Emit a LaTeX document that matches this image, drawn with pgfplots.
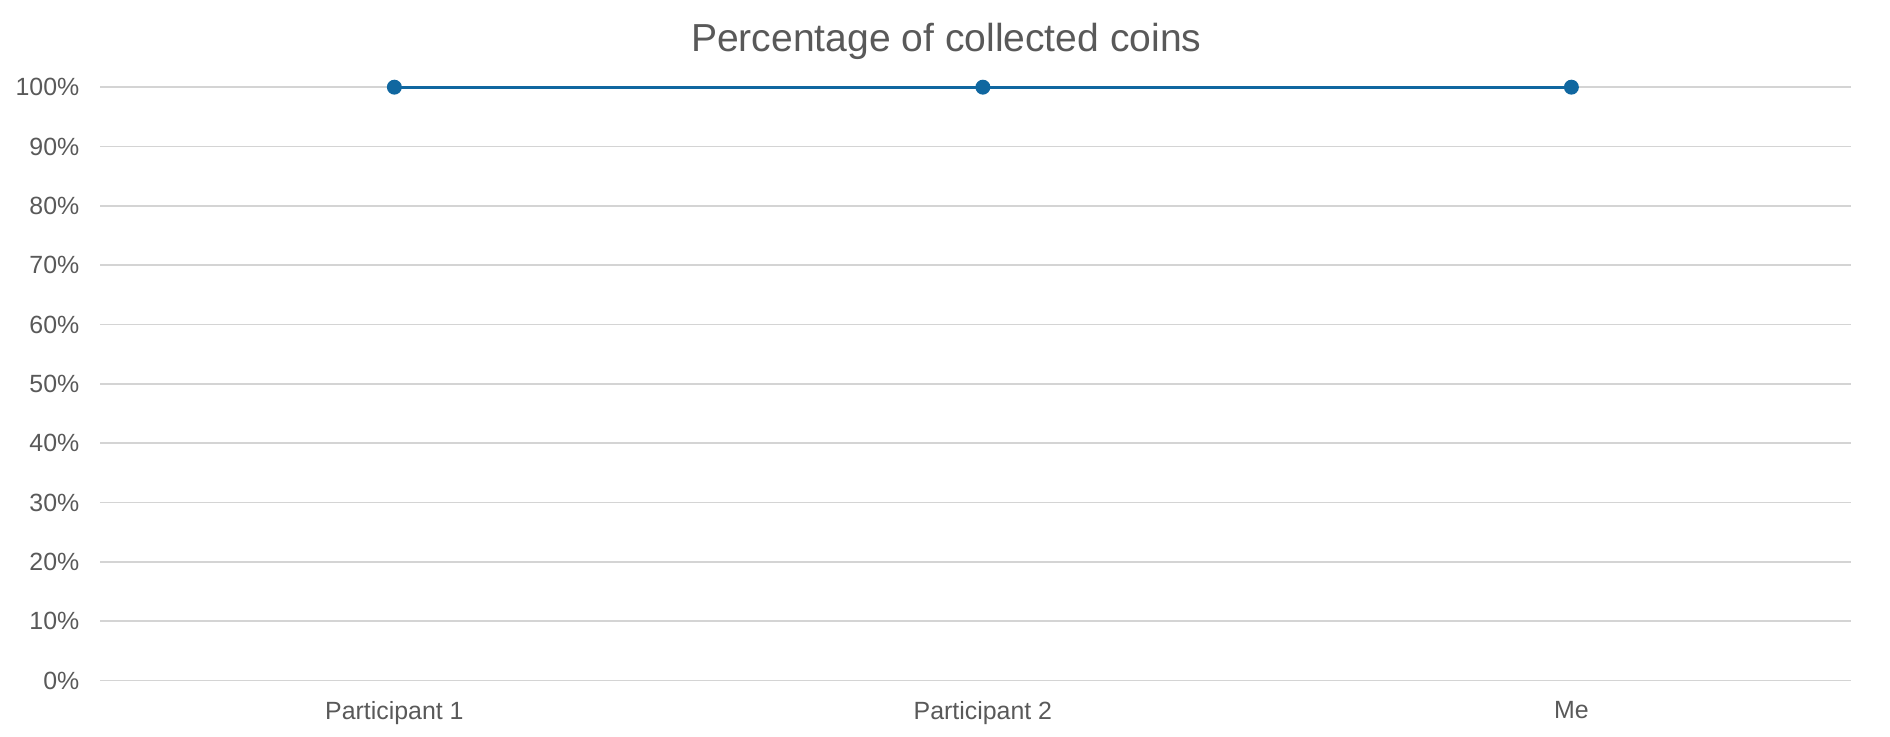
\documentclass[border=0pt]{standalone}
\usepackage{pgfplots}
\pgfplotsset{compat=1.18}
\usetikzlibrary{calc}
\usepackage{fontspec}
\setmainfont{Liberation Sans}
\definecolor{txtgray}{RGB}{89,89,89}
\definecolor{gridgray}{RGB}{212,212,212}
\definecolor{lineblue}{RGB}{16,103,160}
\begin{document}
\begin{tikzpicture}
\begin{axis}[
  scale only axis, width=717pt, height=243pt,
  xmin=-0.5, xmax=2.475, ymin=0, ymax=100,
  axis line style={draw=none},
  xtick={0,1,2}, xticklabels={Participant 1, Participant 2, Me},
  ytick={0,10,...,100},
  yticklabel={\pgfmathprintnumber{\tick}\%},
  /pgf/number format/assume math mode=true,
  ymajorgrids, major grid style={gridgray, line width=0.75pt},
  tick style={draw=none},
  ticklabel style={font=\fontsize{10.2}{12}\selectfont, text=txtgray},
  yticklabel style={xshift=-5pt},
  xticklabel style={yshift=-5pt},
  title={Percentage of collected coins},
  title style={font=\fontsize{16}{18}\selectfont, text=txtgray, at={(0.5,1)}, anchor=center, yshift=12.8pt, xshift=-12pt},
  clip=false,
]
\addplot[lineblue, line width=1.3pt, mark=*, mark size=2.4pt, mark options={fill=lineblue, draw=lineblue}]
  coordinates {(0,100) (1,100) (2,100)};
\end{axis}
\pgfresetboundingbox
\path[use as bounding box] ($(current axis.south west)+(-41pt,-23pt)$) rectangle ($(current axis.north east)+(16pt,35.7pt)$);
\end{tikzpicture}
\end{document}
